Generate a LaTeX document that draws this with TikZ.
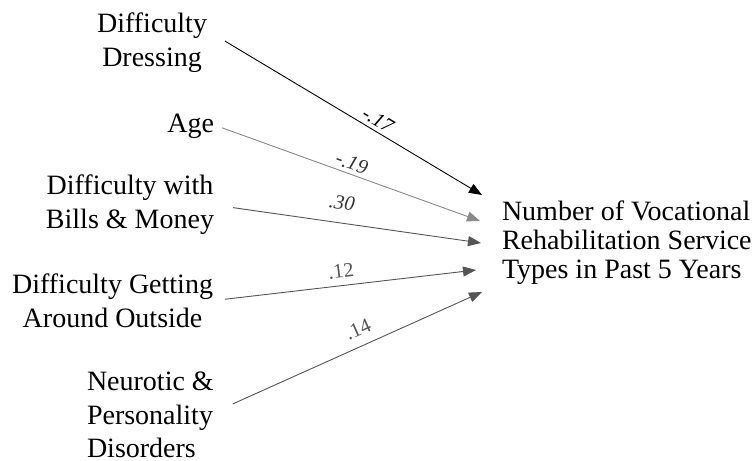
\documentclass[tikz,border=0pt]{standalone}
\usepackage{fontspec}
\setmainfont{Liberation Serif}
\usetikzlibrary{arrows.meta,calc}
\definecolor{lightgr}{HTML}{8A8A8A}
\definecolor{darkgr}{HTML}{555555}
\definecolor{labdark}{HTML}{333333}
\begin{document}
\begin{tikzpicture}[x=1bp,y=-1bp,
  var/.style={inner sep=0pt, outer sep=0pt, font=\fontsize{28bp}{33.5bp}\selectfont},
  path/.style={line width=0.9bp, -{Triangle[length=13bp,width=10bp]}},
  wt/.style={inner sep=0pt, font=\fontsize{20.5bp}{22bp}\selectfont},
  wti/.style={inner sep=0pt, font=\fontsize{20.5bp}{22bp}\selectfont\itshape}]
\useasboundingbox (0,0) rectangle (756,461);
% source variables
\node[var, align=center, anchor=north east] (dd) at (207,13) {Difficulty\\Dressing};
\node[var, anchor=base east] (age) at (214,133) {Age};
\node[var, align=center, anchor=north east] (bm) at (214,175) {Difficulty with\\Bills \& Money};
\node[var, align=center, anchor=north east] (ga) at (213,274) {Difficulty Getting\\Around Outside};
\node[var, align=left, anchor=north west] (np) at (87,372) {Neurotic \&\\Personality\\Disorders};
% outcome
\node[var, align=left, anchor=north west, font=\fontsize{28bp}{28.8bp}\selectfont] (nv) at (502,201) {Number of Vocational\\Rehabilitation Service\\Types in Past 5 Years};
% arrow end points
\coordinate (t1) at (482,195);
\coordinate (t2) at (480,221);
\coordinate (t3) at (481,243);
\coordinate (t4) at (476,270);
\coordinate (t5) at (482,292);
% paths
\draw[path, black] ($(dd.east)+(18,-1.5)$) -- (t1);
\draw[path, lightgr] ($(age.east)+(8,1)$) -- (t2);
\draw[path, darkgr] ($(bm.east)+(19,3)$) -- (t3);
\draw[path, darkgr] ($(ga.east)+(12,-1.5)$) -- (t4);
\draw[path, darkgr] ($(np.east)+(19,-11)$) -- (t5);
% coefficients
\node[wti, rotate=-31, text=black] (w1) at (378,120) {-.17};
\node[wti, rotate=-20, text=labdark] (w2) at (352,163) {-.19};
\node[wti, rotate=-8, text=labdark] (w3) at (342,203) {.30};
\node[wt, rotate=7, text=darkgr] (w4) at (341,271) {.12};
\node[wt, rotate=24, text=darkgr] (w5) at (358,329) {.14};
\end{tikzpicture}
\end{document}
